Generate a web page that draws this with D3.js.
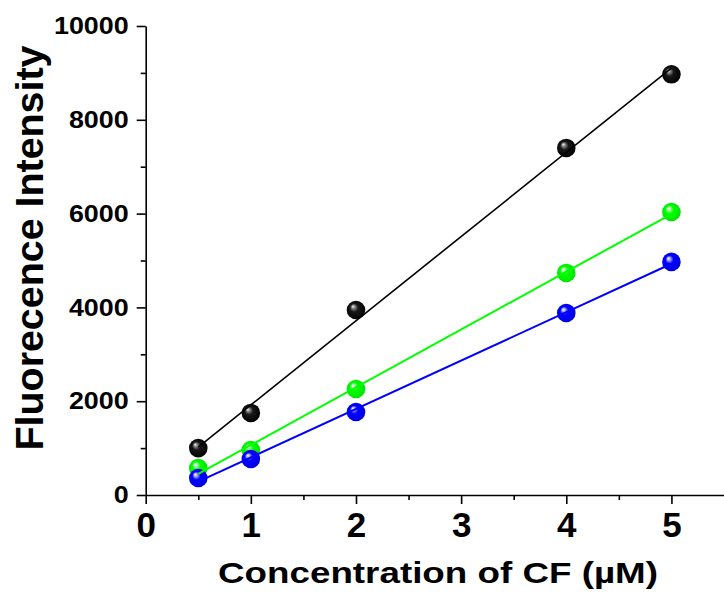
<!DOCTYPE html>
<html>
<head>
<meta charset="utf-8">
<script src="https://cdn.jsdelivr.net/npm/d3@7"></script>
<style>
  html, body { margin: 0; padding: 0; background: #fff; }
  svg { display: block; }
  text { font-family: "Liberation Sans", Arial, sans-serif; font-weight: bold; fill: #000; }
</style>
</head>
<body>
<svg id="chart" width="724" height="605"></svg>
<script>
// ---- data ----
const concentrations = [0.5, 1, 2, 4, 5];
const blackValues = [1000, 1750, 3945, 7400, 8970];
const greenValues = [575, 960, 2260, 4735, 6035];
const blueValues  = [362, 768, 1770, 3880, 4970];
const seriesColors = ["#000000", "#00ff00", "#0000ff"];
const seriesNames = ["black", "green", "blue"];
const xTickValues = [0, 1, 2, 3, 4, 5];
const yTickValues = [0, 2000, 4000, 6000, 8000, 10000];
const xTitle = "Concentration of CF (\u00b5M)";
const yTitle = "Fluorecence Intensity";

const series = [blackValues, greenValues, blueValues].map((vals, i) => ({
  name: seriesNames[i], color: seriesColors[i],
  points: concentrations.map((c, j) => ({ x: c, y: vals[j] }))
}));

// ---- layout ----
const svg = d3.select("#chart");
const mLeft = 145.7, mRight = 724, mTop = 26, mBottom = 495;
const x = d3.scaleLinear().domain([0, 5.5]).range([mLeft, mRight]);
const y = d3.scaleLinear().domain([0, 10000]).range([mBottom, mTop]);

// gradients
const defs = svg.append("defs");
const shades = { black: ["#ffffff", "#909090", "#181818", "#000000"],
                 green: ["#ffffff", "#b0ffb0", "#00ff00", "#00e000"],
                 blue:  ["#ffffff", "#b0b0ff", "#0000ff", "#0000e0"] };
series.forEach(s => {
  const g = defs.append("radialGradient").attr("id", "grad-" + s.name)
    .attr("cx", "0.5").attr("cy", "0.5").attr("r", "0.55")
    .attr("fx", "0.33").attr("fy", "0.3");
  const st = shades[s.name];
  g.append("stop").attr("offset", "0").attr("stop-color", st[0]);
  g.append("stop").attr("offset", "0.15").attr("stop-color", st[1]);
  g.append("stop").attr("offset", "0.4").attr("stop-color", st[2]);
  g.append("stop").attr("offset", "1").attr("stop-color", st[3]);
});

// axes
const fmt = d3.format("d");
const yAxis = d3.axisLeft(y).tickValues(yTickValues).tickFormat(fmt).tickSize(9).tickSizeOuter(0).tickPadding(5);
const yMinor = d3.axisLeft(y).tickValues(d3.range(1000, 10000, 2000)).tickSize(5).tickFormat("").tickSizeOuter(0);
const xAxis = d3.axisBottom(x).tickValues(xTickValues).tickFormat(fmt).tickSize(9).tickSizeOuter(0).tickPadding(8);
const xMinor = d3.axisBottom(x).tickValues([0.5, 1.5, 2.5, 3.5, 4.5]).tickSize(5).tickFormat("").tickSizeOuter(0);

const gy = svg.append("g").attr("transform", `translate(${mLeft},0)`).call(yAxis);
svg.append("g").attr("transform", `translate(${mLeft},0)`).call(yMinor).select(".domain").remove();
const gx = svg.append("g").attr("transform", `translate(0,${mBottom})`).call(xAxis);
svg.append("g").attr("transform", `translate(0,${mBottom})`).call(xMinor).select(".domain").remove();

svg.selectAll(".domain, .tick line").attr("stroke", "#000").attr("stroke-width", 1.6);
gy.selectAll(".tick text").style("font-size", "24px").attr("font-family", null)
  .attr("transform", "scale(1.12,1)").attr("x", -17 / 1.12);
gx.selectAll(".tick text").style("font-size", "35px").attr("font-family", null);

// fit lines (least squares)
function fit(pts) {
  const mx = d3.mean(pts, p => p.x), my = d3.mean(pts, p => p.y);
  const sxy = d3.sum(pts, p => (p.x - mx) * (p.y - my));
  const sxx = d3.sum(pts, p => (p.x - mx) ** 2);
  const b = sxy / sxx, a = my - b * mx;
  const x0 = d3.min(pts, p => p.x), x1 = d3.max(pts, p => p.x);
  return [{ x: x0, y: a + b * x0 }, { x: x1, y: a + b * x1 }];
}
const line = d3.line().x(d => x(d.x)).y(d => y(d.y));

// markers
series.forEach(s => {
  svg.append("g").selectAll("circle").data(s.points).join("circle")
    .attr("cx", d => x(d.x)).attr("cy", d => y(d.y)).attr("r", 9.3)
    .attr("fill", `url(#grad-${s.name})`);
});
series.forEach(s => {
  svg.append("path").datum(fit(s.points)).attr("d", line)
    .attr("fill", "none").attr("stroke", s.color).attr("stroke-width", s.name === "black" ? 1.6 : 2);
});

// titles
svg.append("text").attr("x", 438).attr("y", 583)
  .attr("text-anchor", "middle").style("font-size", "30px")
  .attr("textLength", 440).attr("lengthAdjust", "spacingAndGlyphs").text(xTitle);
svg.append("text").attr("transform", `translate(43,248) rotate(-90)`)
  .attr("text-anchor", "middle").style("font-size", "38px")
  .attr("textLength", 405).attr("lengthAdjust", "spacingAndGlyphs").text(yTitle);
</script>
</body>
</html>
